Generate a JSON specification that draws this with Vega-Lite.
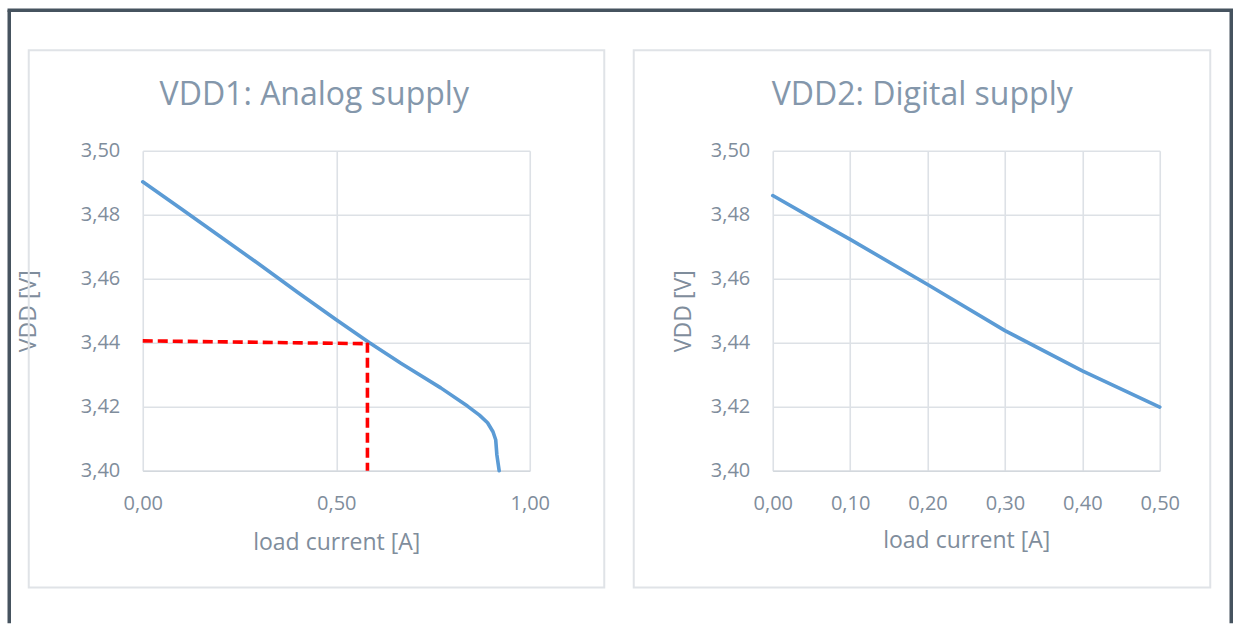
{
  "$schema": "https://vega.github.io/schema/vega-lite/v6.json",
  "background": "white",
  "autosize": {"type": "pad"},
  "padding": {"left": 6.75, "top": 7.75, "right": 4.75, "bottom": 0.75},
  "bounds": "flush",
  "spacing": 243,
  "datasets": {
    "c1": [
      {"current": 0.0, "vdd": 3.4903},
      {"current": 0.1, "vdd": 3.4818},
      {"current": 0.2, "vdd": 3.4732},
      {"current": 0.3, "vdd": 3.4646},
      {"current": 0.4, "vdd": 3.4558},
      {"current": 0.5, "vdd": 3.4472},
      {"current": 0.585, "vdd": 3.4401},
      {"current": 0.667, "vdd": 3.4336},
      {"current": 0.77, "vdd": 3.4259},
      {"current": 0.839, "vdd": 3.4202},
      {"current": 0.87, "vdd": 3.4174},
      {"current": 0.891, "vdd": 3.415},
      {"current": 0.905, "vdd": 3.4122},
      {"current": 0.912, "vdd": 3.4097},
      {"current": 0.915, "vdd": 3.405},
      {"current": 0.921, "vdd": 3.4}
    ],
    "g1": [
      {"seg": "h", "o": 1, "current": 0.0, "vdd": 3.4406},
      {"seg": "h", "o": 2, "current": 0.582, "vdd": 3.4397},
      {"seg": "v", "o": 1, "current": 0.5806, "vdd": 3.44},
      {"seg": "v", "o": 2, "current": 0.5806, "vdd": 3.4}
    ],
    "c2": [
      {"current": 0.0, "vdd": 3.486},
      {"current": 0.05, "vdd": 3.4791},
      {"current": 0.1, "vdd": 3.4723},
      {"current": 0.2, "vdd": 3.4582},
      {"current": 0.3, "vdd": 3.4438},
      {"current": 0.4, "vdd": 3.4312},
      {"current": 0.5, "vdd": 3.4199}
    ],
    "decor": [{}]
  },
  "config": {
    "font": "Open Sans",
    "view": {"stroke": null},
    "axis": {
      "labelFont": "Open Sans",
      "labelFontSize": 20,
      "labelColor": "#7f8d9c",
      "labelFlush": false,
      "labelOverlap": false,
      "titleFont": "Open Sans",
      "titleFontSize": 23,
      "titleFontWeight": "normal",
      "titleColor": "#7f8d9c",
      "gridColor": "#dde1e6",
      "gridWidth": 1.6,
      "gridOpacity": 1,
      "domainColor": "#d3d8dd",
      "domainWidth": 1.6,
      "ticks": false,
      "tickSize": 0
    },
    "title": {
      "font": "Open Sans",
      "fontSize": 32,
      "fontWeight": "normal",
      "color": "#8497ab",
      "baseline": "alphabetic",
      "offset": 0,
      "frame": "group",
      "anchor": "middle"
    }
  },
  "hconcat": [
    {
      "width": 387,
      "height": 320,
      "title": {"text": "VDD1: Analog supply", "dx": -22, "dy": 108},
      "resolve": {"axis": {"x": "independent", "y": "independent"}},
      "layer": [
        {
          "data": {"name": "c1"},
          "mark": {"type": "line", "color": "#5b9bd5", "strokeWidth": 3.6, "strokeCap": "round", "strokeJoin": "round"},
          "encoding": {
            "x": {
              "field": "current", "type": "quantitative",
              "scale": {"domain": [0, 1], "nice": false, "zero": false},
              "axis": {"values": [0, 0.5, 1], "labelExpr": "replace(format(datum.value, '.2f'), '.', ',')", "title": "load current [A]", "titleY": 72, "titleBaseline": "middle", "labelPadding": 23, "domain": true, "grid": true}
            },
            "y": {
              "field": "vdd", "type": "quantitative",
              "scale": {"domain": [3.4, 3.5], "nice": false, "zero": false},
              "axis": {"values": [3.4, 3.42, 3.44, 3.46, 3.48, 3.5], "labelExpr": "replace(format(datum.value, '.2f'), '.', ',')", "title": "VDD [V]", "titleX": -114, "titleBaseline": "middle", "labelPadding": 23, "domain": false, "grid": true}
            }
          }
        },
        {
          "data": {"name": "g1"},
          "mark": {"type": "line", "color": "#ff0000", "strokeWidth": 3.6, "strokeDash": [10, 5]},
          "encoding": {
            "x": {"field": "current", "type": "quantitative", "axis": null},
            "y": {"field": "vdd", "type": "quantitative", "axis": null},
            "detail": {"field": "seg"},
            "order": {"field": "o"}
          }
        },
        {
          "data": {"name": "decor"},
          "mark": {"type": "rect", "fill": "white", "fillOpacity": 0, "stroke": "#e0e3e7", "strokeWidth": 2, "clip": false},
          "encoding": {
            "x": {"datum": -0.29457, "axis": null},
            "x2": {"datum": 1.19251},
            "y": {"datum": 3.531406, "axis": null},
            "y2": {"datum": 3.363531}
          }
        },
        {
          "data": {"name": "decor"},
          "mark": {"type": "rule", "color": "#46535f", "strokeWidth": 3.5, "clip": false},
          "encoding": {
            "x": {"datum": -0.34496, "axis": null},
            "y": {"datum": 3.543906, "axis": null},
            "y2": {"datum": 3.352344}
          }
        },
        {
          "data": {"name": "decor"},
          "mark": {"type": "rule", "color": "#46535f", "strokeWidth": 3.5, "clip": false},
          "encoding": {
            "x": {"datum": 2.81266, "axis": null},
            "y": {"datum": 3.543906, "axis": null},
            "y2": {"datum": 3.352344}
          }
        },
        {
          "data": {"name": "decor"},
          "mark": {"type": "rule", "color": "#46535f", "strokeWidth": 3.5, "strokeCap": "square", "clip": false},
          "encoding": {
            "x": {"datum": -0.34496, "axis": null},
            "x2": {"datum": 2.81266},
            "y": {"datum": 3.543906, "axis": null}
          }
        }
      ]
    },
    {
      "width": 387,
      "height": 320,
      "title": {"text": "VDD2: Digital supply", "dx": -44, "dy": 67},
      "resolve": {"axis": {"x": "independent", "y": "independent"}},
      "layer": [
        {
          "data": {"name": "c2"},
          "mark": {"type": "line", "color": "#5b9bd5", "strokeWidth": 3.6, "strokeCap": "round", "strokeJoin": "round"},
          "encoding": {
            "x": {
              "field": "current", "type": "quantitative",
              "scale": {"domain": [0, 0.5], "nice": false, "zero": false},
              "axis": {"values": [0, 0.1, 0.2, 0.3, 0.4, 0.5], "labelExpr": "replace(format(datum.value, '.2f'), '.', ',')", "title": "load current [A]", "titleY": 70, "titleBaseline": "middle", "labelPadding": 23, "domain": true, "grid": true}
            },
            "y": {
              "field": "vdd", "type": "quantitative",
              "scale": {"domain": [3.4, 3.5], "nice": false, "zero": false},
              "axis": {"values": [3.4, 3.42, 3.44, 3.46, 3.48, 3.5], "labelExpr": "replace(format(datum.value, '.2f'), '.', ',')", "title": "VDD [V]", "titleX": -89, "titleBaseline": "middle", "labelPadding": 23, "domain": false, "grid": true}
            }
          }
        },
        {
          "data": {"name": "decor"},
          "mark": {"type": "rect", "fill": "white", "fillOpacity": 0, "stroke": "#e0e3e7", "strokeWidth": 2, "clip": false},
          "encoding": {
            "x": {"datum": -0.17959, "axis": null},
            "x2": {"datum": 0.565245},
            "y": {"datum": 3.531406, "axis": null},
            "y2": {"datum": 3.363531}
          }
        }
      ]
    }
  ]
}
